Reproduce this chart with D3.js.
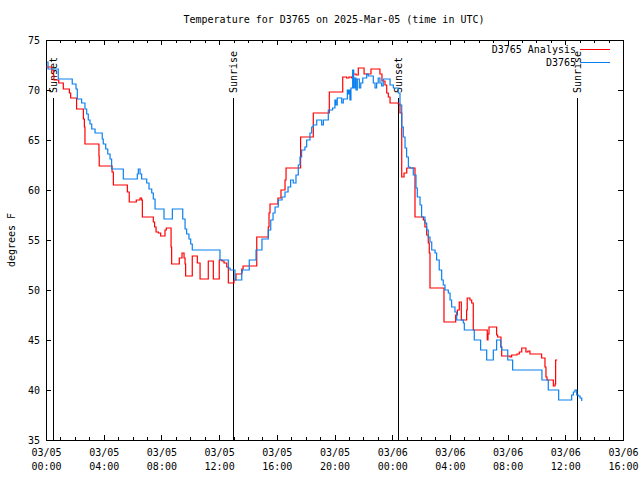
<!DOCTYPE html>
<html><head><meta charset="utf-8">
<script src="https://cdn.jsdelivr.net/npm/d3@7"></script>
<style>
html,body{margin:0;padding:0;background:#fff;}
text{font-family:"DejaVu Sans Mono","Liberation Mono",monospace;font-size:10px;fill:#000;}
</style></head>
<body><svg id="c" width="640" height="480"></svg>
<script>
// ---- data (hours since 2025-03-05 00:00 UTC, degrees F) ----
const title = "Temperature for D3765 on 2025-Mar-05 (time in UTC)";
const yLabel = "degrees F";
const seriesNames = ["D3765 Analysis", "D3765"];
const yTicks = [35, 40, 45, 50, 55, 60, 65, 70, 75];
const sunEvents = [
  {label: "Sunset",  h: 0.50},
  {label: "Sunrise", h: 12.93},
  {label: "Sunset",  h: 24.37},
  {label: "Sunrise", h: 36.82}
];
const analysisHours = [0.00,0.40,0.51,0.55,0.88,1.20,1.62,1.71,2.12,2.59,2.66,2.70,3.67,3.69,4.58,4.67,5.64,5.77,6.26,6.52,6.63,6.68,7.44,7.53,7.63,7.79,7.95,8.25,8.34,8.67,8.71,9.24,9.43,9.57,9.64,9.68,10.14,10.49,10.68,11.25,11.60,12.01,12.20,12.34,12.53,12.64,13.03,13.17,13.57,13.66,14.61,15.41,15.46,15.53,16.08,16.29,16.57,16.64,17.65,18.53,19.64,20.57,20.84,21.00,21.19,21.30,21.49,21.65,22.05,22.53,23.15,23.29,23.50,23.62,23.73,23.85,24.42,24.54,24.66,24.82,25.01,25.58,26.16,26.27,26.39,26.50,26.57,26.62,27.59,28.40,28.52,28.65,28.79,29.16,29.20,29.39,29.51,29.62,30.59,30.64,30.71,31.24,31.31,31.54,31.59,32.17,32.28,32.65,32.81,32.98,33.27,33.41,33.55,34.36,34.59,34.66,34.73,35.17,35.29,35.33,35.44];
const analysisTemps = [72.3,72.0,71.5,71.0,70.7,70.1,69.7,69.2,68.1,67.1,66.3,64.6,63.4,62.4,61.8,60.5,59.8,58.8,59.0,59.2,59.0,57.3,56.8,56.3,55.8,55.7,55.4,56.0,56.2,54.3,52.6,53.2,53.7,53.2,52.6,51.4,53.4,52.7,51.1,52.9,51.1,53.0,52.9,52.7,52.3,50.7,51.0,51.6,52.1,52.4,55.3,56.3,57.7,58.6,59.2,60.0,61.0,62.2,65.3,67.7,69.8,71.3,71.2,71.3,71.2,71.6,71.5,72.2,71.6,72.1,71.6,70.9,70.5,69.7,69.3,68.7,68.6,67.7,61.3,61.7,62.2,57.3,57.0,56.3,55.5,54.7,53.7,50.2,46.8,47.5,48.0,48.8,47.0,48.0,49.2,49.0,48.7,46.0,45.0,45.6,46.3,45.5,45.3,44.3,43.4,43.3,43.5,43.6,43.8,44.2,43.8,43.9,43.6,43.2,42.3,41.3,41.0,40.4,40.6,43.0,43.0];
const obsHours = [0.05,0.14,0.85,1.82,2.08,2.17,2.47,2.70,2.82,2.93,3.05,3.17,3.40,3.90,3.97,4.14,4.28,4.44,4.55,5.36,6.33,6.40,6.52,6.63,6.98,7.14,7.33,7.44,7.56,8.18,8.76,9.48,9.64,9.75,9.91,10.03,10.14,12.06,12.64,12.76,13.10,13.57,13.61,14.09,14.56,14.97,15.41,15.58,15.74,15.88,16.10,16.36,16.57,16.78,16.96,17.14,17.33,17.49,17.61,17.72,17.95,18.07,18.30,18.42,18.53,18.77,19.00,19.11,19.23,19.57,19.87,20.03,20.10,20.19,20.50,20.61,20.89,20.96,21.03,21.07,21.14,21.26,21.33,21.42,21.49,21.58,21.72,21.82,21.96,22.23,22.34,22.69,22.81,22.92,23.03,23.15,23.27,23.38,23.85,24.08,24.42,24.54,24.66,24.77,24.89,25.00,25.12,25.23,25.46,25.65,25.74,25.93,26.04,26.27,26.39,26.50,26.62,26.74,26.97,27.08,27.26,27.43,27.54,27.66,27.89,28.01,28.12,28.35,28.47,28.93,29.00,29.69,30.13,30.55,31.01,31.24,31.52,31.59,32.01,32.35,34.38,34.82,35.54,36.44,36.56,36.67,36.79,36.90,37.02,37.14];
const obsTemps = [72.8,72.1,71.1,70.6,70.1,69.1,68.7,68.1,67.6,67.0,66.6,66.1,65.7,65.1,64.6,64.1,63.6,63.1,62.1,61.1,61.6,62.1,61.6,61.1,60.7,60.1,59.7,59.1,58.1,57.1,58.1,57.1,56.1,55.6,55.1,54.6,54.0,53.0,52.2,52.0,51.0,51.8,52.0,53.0,54.0,55.1,56.0,57.0,57.7,58.3,59.0,59.3,59.8,60.3,61.0,60.7,61.5,62.5,63.3,64.0,64.3,65.0,65.7,66.3,66.5,67.0,67.0,66.5,67.0,68.0,68.2,69.0,68.5,69.2,68.7,69.1,70.0,69.6,70.0,69.0,70.2,72.0,70.2,71.2,70.0,71.1,70.2,70.7,71.2,71.6,71.4,70.7,70.2,70.7,71.2,70.7,70.4,71.1,70.5,70.2,69.7,68.5,66.3,65.3,64.2,63.3,62.3,62.2,61.5,60.2,59.3,58.5,57.3,56.7,56.0,55.3,54.8,54.0,53.7,53.0,52.0,51.0,50.5,50.0,49.7,49.0,48.3,47.8,47.0,46.7,46.0,45.0,44.0,43.0,44.0,45.0,44.3,44.0,43.0,42.0,41.0,40.0,39.0,39.5,39.8,40.0,39.5,39.4,39.2,38.9];

// ---- setup ----
const base = Date.UTC(2025, 2, 5, 0, 0);
const toDate = h => new Date(base + h * 3600e3);
const svg = d3.select("#c");
const L = 46, R = 623, T = 40, B = 440;
const x = d3.scaleUtc().domain([toDate(0), toDate(40)]).range([L, R]);
const y = d3.scaleLinear().domain([35, 75]).range([B, T]);

// title & y label
svg.append("text").attr("x", 334).attr("y", 23).attr("text-anchor", "middle").text(title);
svg.append("text").attr("transform", "translate(15,240) rotate(-90)").attr("text-anchor", "middle").text(yLabel);

// axes
const majorT = d3.utcHour.every(4).range(toDate(0), toDate(40.01));
const minorT = d3.utcHour.every(1).range(toDate(0), toDate(40.01));
const gx = svg.append("g").attr("transform", `translate(0,${B})`)
  .call(d3.axisBottom(x).tickValues(majorT).tickSize(-5).tickPadding(9).tickFormat(() => ""));
gx.selectAll(".tick").each(function(d) {
  const t = d3.select(this).select("text");
  t.append("tspan").attr("x", 0).attr("dy", "0.71em").text(d3.utcFormat("%m/%d")(d));
  t.append("tspan").attr("x", 0).attr("dy", "14").text(d3.utcFormat("%H:%M")(d));
});
svg.append("g").attr("transform", `translate(0,${B})`).call(d3.axisBottom(x).tickValues(minorT).tickSize(-3).tickFormat(""));
svg.append("g").attr("transform", `translate(0,${T})`).call(d3.axisTop(x).tickValues(majorT).tickSize(-5).tickFormat(""));
svg.append("g").attr("transform", `translate(0,${T})`).call(d3.axisTop(x).tickValues(minorT).tickSize(-3).tickFormat(""));
svg.append("g").attr("transform", `translate(${L},0)`).call(d3.axisLeft(y).tickValues(yTicks).tickSize(-5).tickPadding(6).tickFormat(d3.format("d")));
svg.append("g").attr("transform", `translate(${R},0)`).call(d3.axisRight(y).tickValues(yTicks).tickSize(-5).tickFormat(""));
svg.selectAll(".domain").remove();
svg.selectAll(".tick line").attr("stroke", "#000").attr("shape-rendering", "crispEdges");
svg.selectAll(".tick text").style("font-family", '"DejaVu Sans Mono",monospace').style("font-size", "10px").attr("fill", "#000");

// frame
svg.append("rect").attr("x", L).attr("y", T).attr("width", R - L).attr("height", B - T)
  .attr("fill", "none").attr("stroke", "#000").attr("shape-rendering", "crispEdges");

// sun events
sunEvents.forEach(e => {
  const px = Math.round(x(toDate(e.h))) + 0.5;
  svg.append("line").attr("x1", px).attr("x2", px).attr("y1", 98).attr("y2", B).attr("stroke", "#000");
  svg.append("text").attr("transform", `translate(${px},93) rotate(-90)`)
    .attr("dominant-baseline", "middle").attr("text-anchor", "start").text(e.label);
});

// series
const colors = ["#ff0000", "#0a80f0"];
const line = d3.line().x(d => x(d.t)).y(d => y(d.v)).curve(d3.curveStepAfter);
const analysis = analysisHours.map((h, i) => ({t: toDate(h), v: analysisTemps[i]}));
const obs = obsHours.map((h, i) => ({t: toDate(h), v: obsTemps[i]}));
svg.append("path").datum(analysis).attr("d", line).attr("fill", "none").attr("stroke", colors[0]).attr("stroke-width", 1.2);
svg.append("path").datum(obs).attr("d", line).attr("fill", "none").attr("stroke", colors[1]).attr("stroke-width", 1.2);

// legend
seriesNames.forEach((n, i) => {
  const ly = 50 + i * 13;
  svg.append("text").attr("x", 576).attr("y", ly).attr("dominant-baseline", "middle").attr("text-anchor", "end").text(n);
  svg.append("line").attr("x1", 580).attr("x2", 610).attr("y1", ly - 0.5).attr("y2", ly - 0.5).attr("stroke", colors[i]);
});
</script></body></html>
